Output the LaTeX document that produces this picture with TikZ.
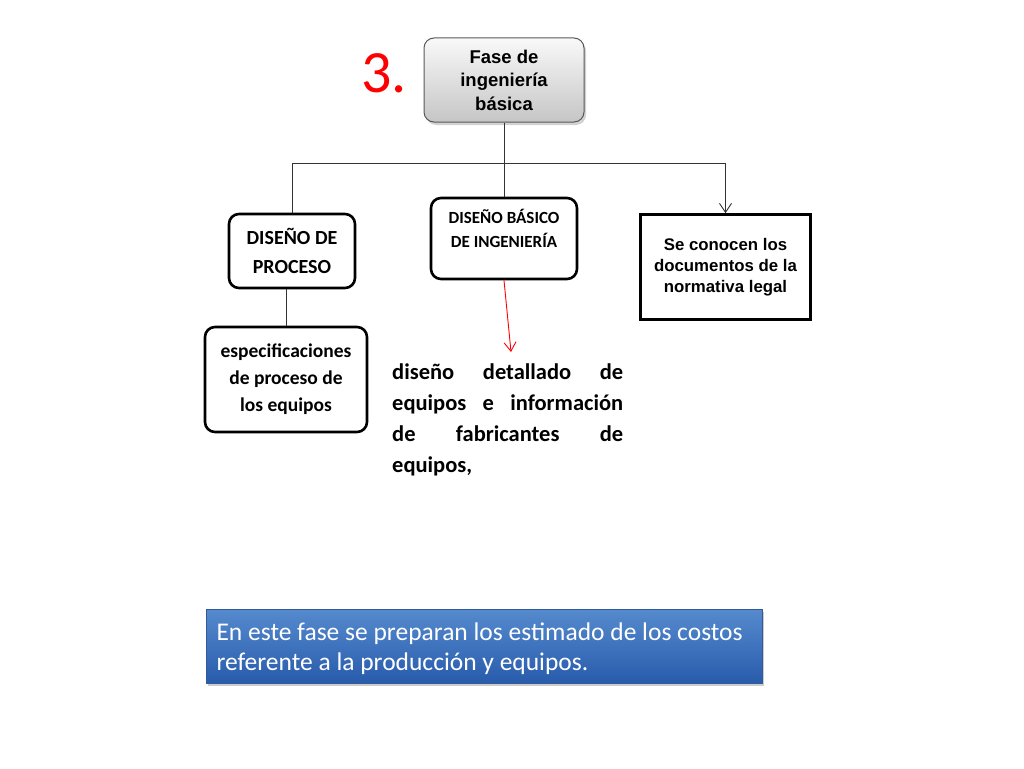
\documentclass[tikz,border=0pt]{standalone}
\usepackage{fontspec}
\setmainfont{Carlito}
\newfontfamily\arialfont{Liberation Sans}
\usepackage{ragged2e}
\usetikzlibrary{shadows,arrows.meta}

\definecolor{boxblueA}{RGB}{86,138,206}
\definecolor{boxblueB}{RGB}{40,92,172}
\definecolor{boxblueC}{RGB}{50,90,150}

\tikzset{
  faseBox/.style={draw=gray!70!black, line width=1pt, rounded corners=10pt,
    top color=gray!5, bottom color=gray!45, align=center,
    minimum width=160, minimum height=84,
    drop shadow={opacity=0.35, shadow xshift=2pt, shadow yshift=-3pt},
    font=\arialfont\bfseries\fontsize{18.5}{23.5}\selectfont},
  roundBox/.style={draw, line width=2.6pt, rounded corners=10pt, fill=white,
    align=center, font=\bfseries\fontsize{20}{29}\selectfont},
  plainBox/.style={draw, line width=2.6pt, fill=white, align=center,
    minimum width=170, minimum height=105,
    font=\arialfont\bfseries\fontsize{16.8}{21}\selectfont},
  link/.style={line width=0.9pt, draw=black!80},
  noteBox/.style={draw=boxblueC, line width=0.8pt, top color=boxblueA,
    bottom color=boxblueB, text=white, minimum width=556, minimum height=74,
    drop shadow={opacity=0.4, shadow xshift=2pt, shadow yshift=-3pt}}
}

\begin{document}
\begin{tikzpicture}[x=1pt,y=-1pt,>={Straight Barb[length=9pt,width=12pt]}]
  \useasboundingbox[fill=white] (0,0) rectangle (1024,768);

  % titulo
  \node[anchor=base, text=red, font=\fontsize{60}{60}\selectfont, inner sep=0]
    (num) at (384,92) {3.};
  \node[faseBox] (fase) at (504,80) {Fase de\\ingeniería\\básica};

  % cajas del segundo nivel
  \node[roundBox, minimum width=126, minimum height=74] (proceso) at (292,251)
    {DISEÑO DE\\PROCESO};
  \node[roundBox, minimum width=146, minimum height=81] (basico) at (504,238.5) {};
  \node[font=\bfseries\fontsize{17}{24}\selectfont, align=center] (basicoTxt)
    at (504,228) {DISEÑO BÁSICO\\DE INGENIERÍA};
  \node[plainBox] (legal) at (725.5,267) {Se conocen los\\documentos de la\\normativa legal};

  \coordinate (bar) at (504,163);
  \draw[link] (fase.south) -- (bar);
  \draw[link] (bar) -| (proceso.north);
  \draw[link] (bar) -- (basico.north);
  \draw[link,->] (bar) -| (legal.north);

  % tercer nivel
  \node[roundBox, minimum width=162, minimum height=105, font=\bfseries\fontsize{19.5}{27}\selectfont]
    (espec) at (286,379.5) {especificaciones\\de proceso de\\los equipos};
  \draw[link] (proceso.south -| espec.north) -- (espec.north);

  \node[anchor=north west, inner sep=0, text width=231,
    font=\bfseries\fontsize{22.5}{31}\selectfont] (detalle) at (392,364)
    {\hyphenpenalty=10000\exhyphenpenalty=10000\tolerance=9999\justifying
     diseño detallado de equipos e información de fabricantes de equipos,\par};
  \coordinate (redEnd) at (511,352);
  \draw[red, line width=0.9pt, ->] (basico.south) -- (redEnd);

  % nota
  \node[noteBox] (nota) at (484,646) {};
  \node[anchor=west, text=white, align=left, font=\fontsize{25.5}{30}\selectfont]
    (notaTxt) at (213,649) {En este fase se preparan los estimado de los costos\\referente a la producción y equipos.};
\end{tikzpicture}
\end{document}
